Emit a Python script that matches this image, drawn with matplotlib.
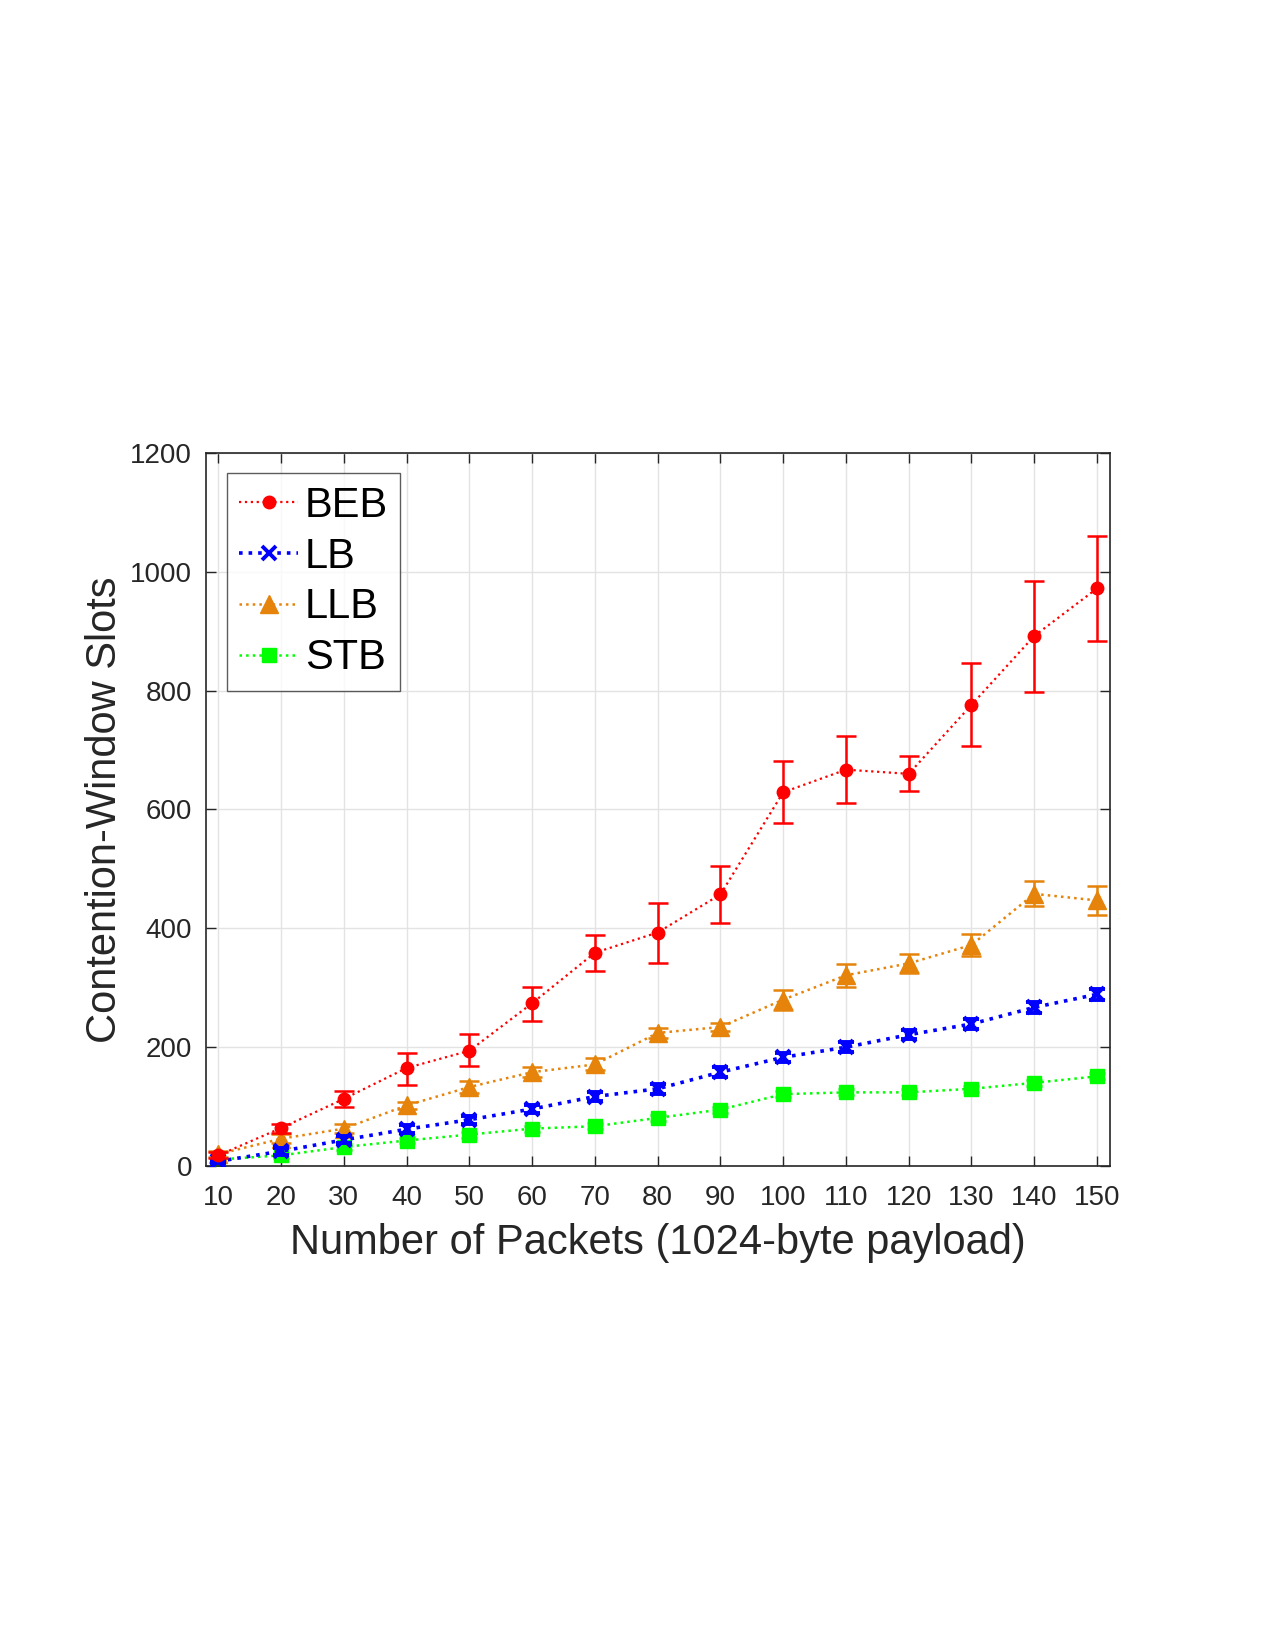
import matplotlib
matplotlib.use("Agg")
import matplotlib.pyplot as plt
from matplotlib.lines import Line2D
import numpy as np

plt.rcParams['font.family'] = ['Liberation Sans', 'DejaVu Sans']

packets = [10, 20, 30, 40, 50, 60, 70, 80, 90, 100, 110, 120, 130, 140, 150]

beb = [18, 64, 113, 165, 194, 274, 359, 393, 457, 629, 667, 660, 776, 892, 972]
beb_lo = [5, 8, 13, 28, 26, 30, 31, 52, 48, 51, 56, 29, 69, 95, 88]
beb_hi = [5, 7, 14, 26, 29, 28, 29, 50, 48, 52, 56, 30, 70, 92, 89]

lb = [8, 25, 44, 62, 78, 96, 117, 130, 158, 183, 200, 221, 239, 267, 289]
lb_err = [3, 6, 6, 7, 7, 7, 8, 8, 8, 8, 8, 8, 8, 9, 9]

llb = [20, 46, 63, 102, 133, 158, 171, 224, 234, 280, 321, 341, 372, 458, 447]
llb_err = [5, 8, 8, 6, 10, 8, 10, 8, 7, 17, 19, 16, 18, 21, 25]

stb = [11, 18, 32, 43, 53, 63, 67, 81, 95, 121, 124, 124, 130, 140, 151]
stb_err = [3, 4, 5, 5, 5, 5, 5, 5, 5, 5, 5, 5, 5, 5, 5]

series_names = ['BEB', 'LB', 'LLB', 'STB']
xticks = list(range(10, 151, 10))
yticks = list(range(0, 1201, 200))

fig = plt.figure(figsize=(12.75, 16.5), dpi=100)
ax = fig.add_axes([0.1616, 0.2933, 0.7090, 0.4322])

orange = '#E5830A'
green = '#00FF00'

styles = [
    dict(color='red', ls=':', lw=1.6, marker='o', ms=9),
    dict(color='blue', ls=':', lw=2.6, marker='x', ms=10, mew=2.8),
    dict(color=orange, ls=':', lw=1.8, marker='^', ms=13),
    dict(color=green, ls=':', lw=1.8, marker='s', ms=10),
]

ax.errorbar(packets, beb, yerr=[beb_lo, beb_hi], capsize=7, elinewidth=1.8, capthick=1.8,
            zorder=5, **styles[0])
ax.errorbar(packets, lb, yerr=lb_err, capsize=6, elinewidth=1.8, capthick=1.8,
            zorder=4, **styles[1])
ax.errorbar(packets, llb, yerr=llb_err, capsize=7, elinewidth=1.8, capthick=1.8,
            zorder=3, **styles[2])
ax.errorbar(packets, stb, yerr=stb_err, capsize=6, elinewidth=1.8, capthick=1.8,
            zorder=2, **styles[3])

ax.set_xlim(8.04, 152.07)
ax.set_ylim(0, 1200)
ax.set_xticks(xticks)
ax.set_yticks(yticks)
ax.grid(True, color='#E3E3E3', lw=1.0)
ax.set_axisbelow(True)

axis_color = '#262626'
for sp in ax.spines.values():
    sp.set_color(axis_color)
    sp.set_linewidth(1.2)
ax.tick_params(axis='both', direction='in', length=7, width=1.0, colors=axis_color,
               labelsize=20, top=True, right=True)
ax.tick_params(axis='x', pad=14)
ax.tick_params(axis='y', pad=10)
for lab in ax.get_xticklabels() + ax.get_yticklabels():
    lab.set_color(axis_color)

ax.set_xlabel('Number of Packets (1024-byte payload)', fontsize=30, color=axis_color, labelpad=8)
ax.set_ylabel('Contention-Window Slots', fontsize=30, color=axis_color, labelpad=3.5)

handles = [Line2D([], [], **s) for s in styles]
leg = ax.legend(handles, series_names, loc='upper left', bbox_to_anchor=(0.0229, 0.9715),
                fontsize=30, frameon=True, fancybox=False, edgecolor='#333333',
                handlelength=1.42, handletextpad=0.15, borderpad=0.3, labelspacing=0.26,
                borderaxespad=0.0)
leg.get_frame().set_linewidth(1.0)
for t in leg.get_texts():
    t.set_color('black')

fig.savefig('out.png', dpi=100, facecolor='white')
